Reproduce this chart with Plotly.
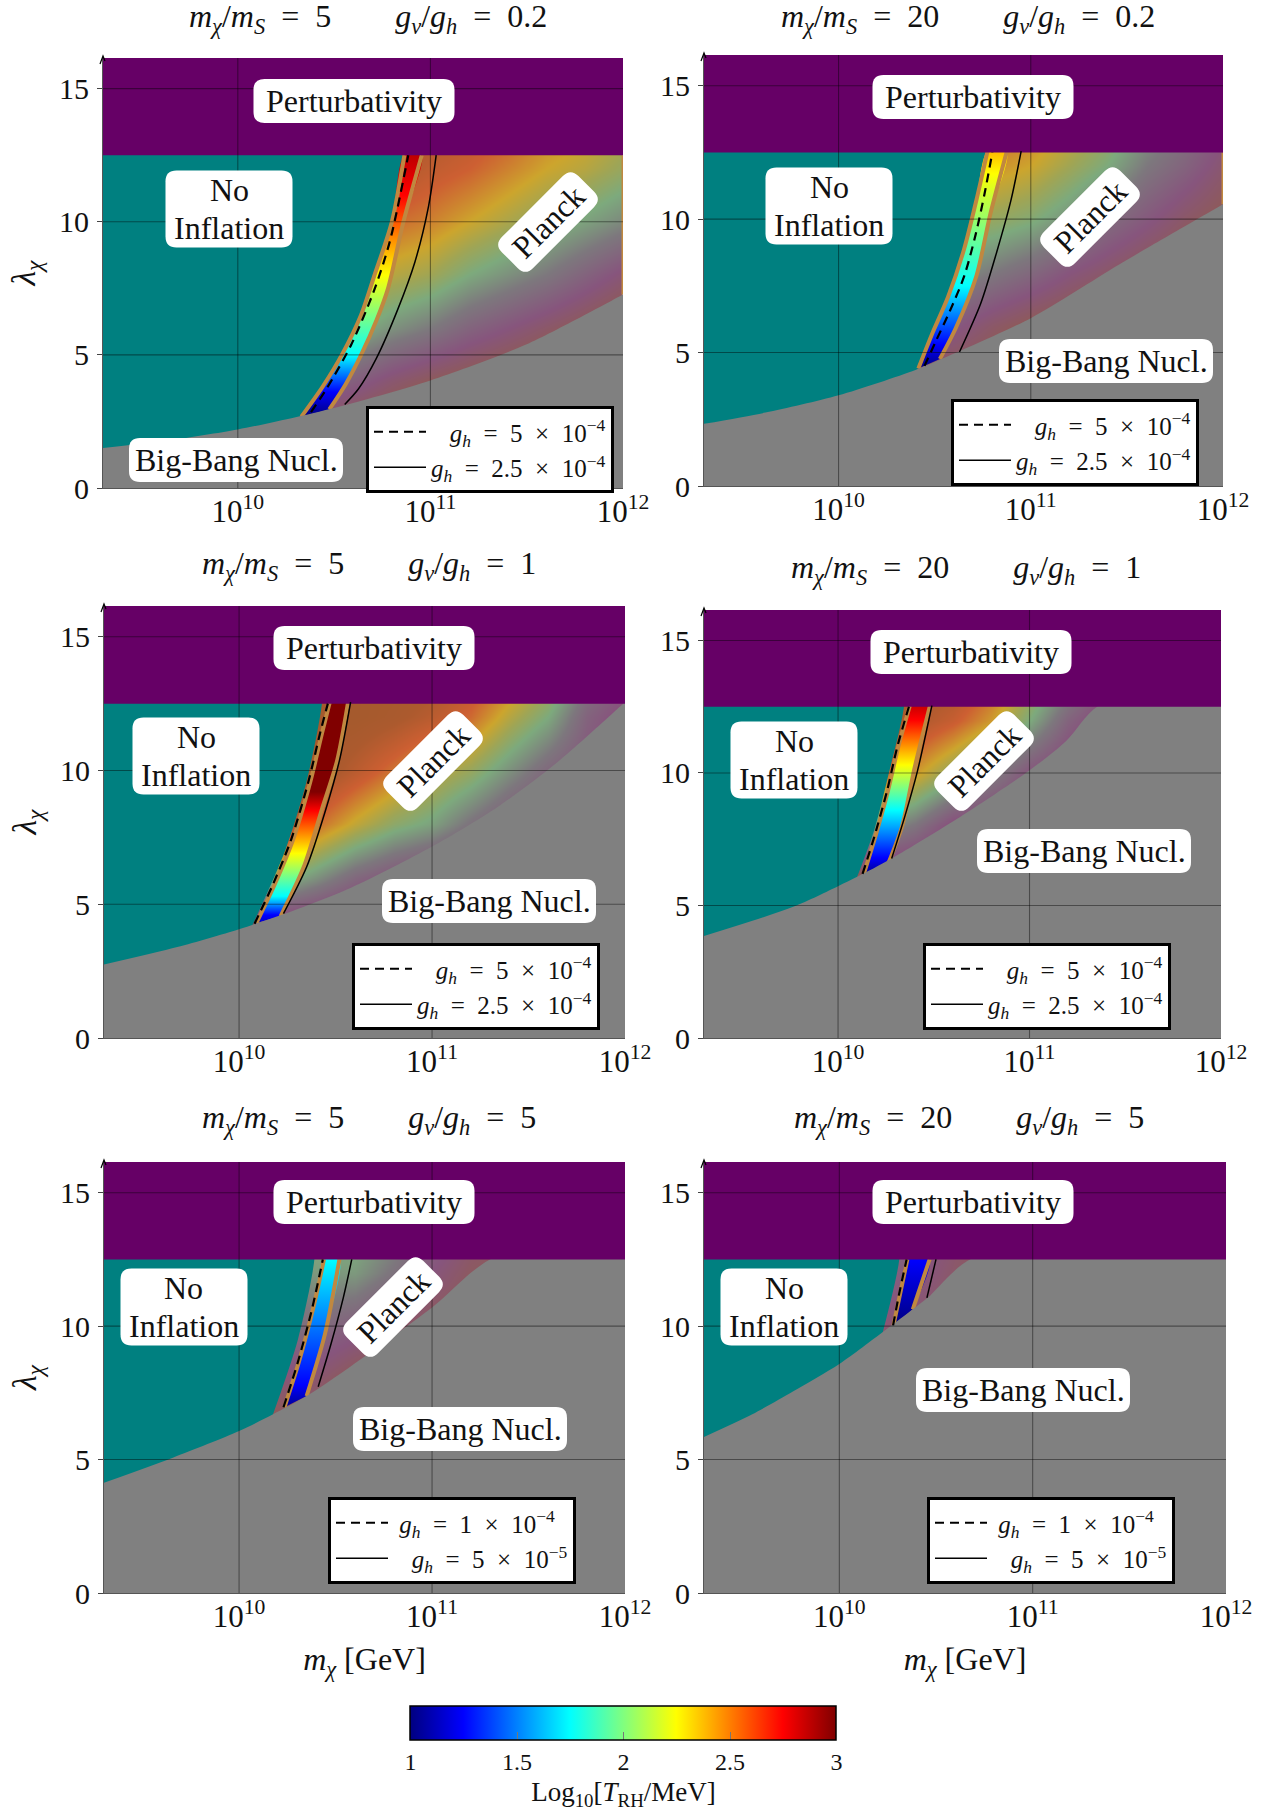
import math
import plotly.graph_objects as go

W, H = 1269, 1809
SERIF = "Liberation Serif"

# ---------- shared readings ----------
y_ticks = [0, 5, 10, 15]
x_ticks = [1e10, 1e11, 1e12]
x_tick_text = ["10<sup>10</sup>", "10<sup>11</sup>", "10<sup>12</sup>"]
cbar_ticks = [1, 1.5, 2, 2.5, 3]
cbar_text = ["1", "1.5", "2", "2.5", "3"]
grid_lx = [10.0, 10.2, 10.4, 10.6, 10.8, 11.0, 11.2, 11.4, 11.6, 11.8, 12.0]
grid_y = [2, 4, 6, 8, 10, 12, 14]

# ---------- panel 1 : ms=5, gv/gh=0.2 ----------
bbn_lx_1 = [9.3, 9.65, 10.0, 10.3, 10.55, 11.0, 11.5, 12.0]
bbn_y_1 = [1.5, 1.8, 2.2, 2.66, 3.1, 4.04, 5.4, 7.27]
teal_lx_1 = [10.32, 10.44, 10.54, 10.64, 10.71, 10.80, 10.86]
teal_y_1 = [2.66, 3.8, 5.0, 6.5, 8.0, 10.0, 12.5]
bl_lx_1 = [10.33, 10.44, 10.54, 10.64, 10.71, 10.80, 10.865]
bl_y_1 = [2.68, 3.8, 5.0, 6.5, 8.0, 10.0, 12.5]
br_lx_1 = [10.475, 10.56, 10.64, 10.72, 10.78, 10.86, 10.955]
br_y_1 = [2.95, 3.9, 5.0, 6.3, 7.5, 10.0, 12.5]
dash_lx_1 = [10.38, 10.46, 10.59, 10.71, 10.79, 10.885]
dash_y_1 = [2.85, 3.72, 5.4, 7.47, 9.28, 12.5]
solid_lx_1 = [10.555, 10.626, 10.72, 10.83, 10.92, 10.99, 11.03]
solid_y_1 = [3.14, 3.72, 4.88, 6.7, 8.5, 10.57, 12.5]
stop_y_1 = [2.7, 3.6, 5.0, 8.0, 11.0, 12.5]
stop_t_1 = [1.0, 1.25, 1.75, 2.25, 2.75, 2.88]
z_1 = [
    [1.0, 1.6, 2.2, 2.6, 2.9, 3.0, 3.0],
    [1.0, 1.55, 2.15, 2.55, 2.85, 3.0, 3.0],
    [1.0, 1.5, 2.1, 2.5, 2.8, 3.0, 3.0],
    [0.8, 1.35, 1.95, 2.4, 2.7, 2.95, 3.0],
    [0.7, 1.15, 1.75, 2.2, 2.55, 2.85, 3.0],
    [0.6, 1.0, 1.6, 2.1, 2.45, 2.7, 2.9],
    [0.5, 0.9, 1.4, 1.9, 2.3, 2.6, 2.8],
    [0.5, 0.8, 1.25, 1.75, 2.15, 2.45, 2.7],
    [0.4, 0.7, 1.1, 1.6, 2.0, 2.3, 2.5],
    [0.4, 0.6, 0.95, 1.4, 1.85, 2.2, 2.4],
    [0.3, 0.5, 0.8, 1.2, 1.7, 2.05, 2.25],
]

# ---------- panel 2 : ms=20, gv/gh=0.2 ----------
bbn_lx_2 = [9.3, 9.62, 10.0, 10.4, 10.56, 11.0, 11.46, 12.0]
bbn_y_2 = [2.33, 2.75, 3.4, 4.35, 4.83, 6.29, 8.3, 10.56]
teal_lx_2 = [10.41, 10.485, 10.57, 10.654, 10.717, 10.77]
teal_y_2 = [4.37, 5.67, 7.09, 8.9, 10.71, 12.55]
bl_lx_2 = [10.415, 10.485, 10.57, 10.654, 10.717, 10.775]
bl_y_2 = [4.4, 5.67, 7.09, 8.9, 10.71, 12.55]
br_lx_2 = [10.527, 10.61, 10.717, 10.79, 10.876]
br_y_2 = [4.76, 5.92, 7.87, 10.2, 12.55]
dash_lx_2 = [10.447, 10.505, 10.58, 10.654, 10.713, 10.76, 10.80]
dash_y_2 = [4.5, 5.41, 6.57, 7.87, 9.42, 10.97, 12.5]
solid_lx_2 = [10.629, 10.739, 10.823, 10.897, 10.95]
solid_y_2 = [5.02, 6.83, 8.77, 10.71, 12.55]
stop_y_2 = [4.4, 5.3, 7.5, 11.7, 12.5]
stop_t_2 = [1.0, 1.25, 1.75, 2.25, 2.38]
z_2 = [
    [0.8, 1.0, 1.6, 2.0, 2.3, 2.6, 2.9],
    [0.8, 1.0, 1.55, 2.0, 2.25, 2.55, 2.85],
    [0.8, 1.0, 1.5, 1.95, 2.2, 2.5, 2.8],
    [0.7, 0.9, 1.3, 1.75, 2.1, 2.45, 2.7],
    [0.6, 0.8, 1.1, 1.6, 2.05, 2.4, 2.65],
    [0.5, 0.7, 0.95, 1.45, 1.95, 2.3, 2.55],
    [0.45, 0.6, 0.85, 1.25, 1.75, 2.1, 2.35],
    [0.4, 0.55, 0.75, 1.1, 1.5, 1.9, 2.15],
    [0.4, 0.5, 0.7, 0.95, 1.3, 1.6, 1.85],
    [0.35, 0.45, 0.6, 0.85, 1.1, 1.4, 1.6],
    [0.3, 0.4, 0.55, 0.75, 0.95, 1.15, 1.35],
]

# ---------- panel 3 : ms=5, gv/gh=1 ----------
bbn_lx_3 = [9.296, 9.68, 10.0, 10.24, 10.58, 11.0, 11.34, 11.66, 12.0]
bbn_y_3 = [2.74, 3.4, 4.07, 4.65, 5.62, 7.16, 8.64, 10.37, 12.56]
teal_lx_3 = [10.07, 10.24, 10.35, 10.43]
teal_y_3 = [4.23, 7.03, 9.6, 12.55]
bl_lx_3 = [10.09, 10.185, 10.28, 10.37, 10.43, 10.47]
bl_y_3 = [4.3, 5.75, 7.42, 9.6, 11.4, 12.55]
br_lx_3 = [10.215, 10.335, 10.43, 10.508, 10.565]
br_y_3 = [4.55, 6.39, 8.57, 10.37, 12.56]
dash_lx_3 = [10.08, 10.176, 10.27, 10.36, 10.42, 10.46]
dash_y_3 = [4.27, 5.75, 7.42, 9.6, 11.4, 12.5]
solid_lx_3 = [10.23, 10.35, 10.445, 10.52, 10.578]
solid_y_3 = [4.65, 6.39, 8.44, 10.37, 12.56]
stop_y_3 = [4.2, 4.6, 5.3, 6.9, 8.5, 9.2, 12.5]
stop_t_3 = [1.1, 1.25, 1.75, 2.25, 2.75, 3.0, 3.0]
z_3 = [
    [0.5, 0.9, 2.0, 3.0, 3.0, 3.0, 3.0],
    [0.5, 0.9, 2.0, 3.0, 3.0, 3.0, 3.0],
    [0.5, 0.85, 1.75, 2.55, 3.0, 3.0, 3.0],
    [0.4, 0.8, 1.45, 2.25, 2.75, 3.0, 3.0],
    [0.4, 0.7, 1.25, 2.0, 2.5, 2.9, 3.0],
    [0.3, 0.65, 1.1, 1.85, 2.25, 2.75, 3.0],
    [0.3, 0.6, 1.0, 1.55, 2.05, 2.55, 2.85],
    [0.3, 0.55, 0.85, 1.3, 1.75, 2.2, 2.6],
    [0.3, 0.5, 0.8, 1.15, 1.45, 1.9, 2.3],
    [0.3, 0.5, 0.7, 1.0, 1.25, 1.4, 1.7],
    [0.3, 0.45, 0.6, 0.85, 1.05, 1.15, 1.4],
]

# ---------- panel 4 : ms=20, gv/gh=1 ----------
bbn_lx_4 = [9.3, 9.766, 10.0, 10.1, 10.28, 10.62, 11.0, 11.19, 11.36]
bbn_y_4 = [3.85, 4.95, 5.73, 6.08, 6.77, 8.26, 10.1, 11.2, 12.54]
teal_lx_4 = [10.1, 10.19, 10.255, 10.345]
teal_y_4 = [6.08, 7.87, 9.69, 12.54]
bl_lx_4 = [10.135, 10.195, 10.26, 10.315, 10.375]
bl_y_4 = [6.2, 7.61, 9.3, 11.0, 12.54]
br_lx_4 = [10.262, 10.335, 10.40, 10.48]
br_y_4 = [6.58, 8.0, 10.2, 12.54]
dash_lx_4 = [10.128, 10.19, 10.255, 10.31, 10.37]
dash_y_4 = [6.19, 7.61, 9.3, 11.0, 12.5]
solid_lx_4 = [10.28, 10.35, 10.415, 10.49]
solid_y_4 = [6.77, 8.39, 10.08, 12.54]
stop_y_4 = [6.1, 6.8, 8.6, 10.3, 12.0, 12.5]
stop_t_4 = [1.0, 1.25, 1.75, 2.25, 2.75, 2.85]
z_4 = [
    [0.5, 0.7, 0.9, 1.8, 2.6, 3.0, 3.0],
    [0.5, 0.7, 0.9, 1.8, 2.6, 3.0, 3.0],
    [0.5, 0.65, 0.85, 1.55, 2.35, 2.85, 3.0],
    [0.4, 0.6, 0.8, 1.15, 2.0, 2.65, 3.0],
    [0.4, 0.6, 0.75, 1.0, 1.65, 2.35, 2.7],
    [0.35, 0.55, 0.7, 0.95, 1.25, 1.9, 2.3],
    [0.3, 0.5, 0.65, 0.85, 1.05, 1.4, 1.9],
    [0.3, 0.5, 0.6, 0.8, 0.95, 1.1, 1.4],
    [0.3, 0.45, 0.6, 0.75, 0.9, 1.0, 1.2],
    [0.3, 0.45, 0.6, 0.75, 0.9, 1.0, 1.1],
    [0.3, 0.45, 0.6, 0.75, 0.9, 1.0, 1.1],
]

# ---------- panel 5 : ms=5, gv/gh=5 ----------
bbn_lx_5 = [9.296, 9.66, 10.0, 10.176, 10.35, 10.58, 11.0, 11.3]
bbn_y_5 = [4.12, 5.08, 6.07, 6.7, 7.38, 8.5, 10.7, 12.5]
teal_lx_5 = [10.176, 10.305, 10.39]
teal_y_5 = [6.7, 9.5, 12.5]
bl_lx_5 = [10.235, 10.31, 10.385, 10.44]
bl_y_5 = [6.96, 8.66, 10.7, 12.5]
br_lx_5 = [10.35, 10.445, 10.52]
br_y_5 = [7.38, 9.7, 12.5]
dash_lx_5 = [10.23, 10.305, 10.38, 10.434]
dash_y_5 = [6.96, 8.66, 10.7, 12.5]
solid_lx_5 = [10.41, 10.477, 10.54, 10.584]
solid_y_5 = [7.73, 9.35, 11.06, 12.5]
stop_y_5 = [6.8, 7.8, 12.5]
stop_t_5 = [1.0, 1.25, 1.75]
z_5 = [
    [0.5, 0.7, 0.9, 1.2, 1.5, 1.75, 1.9],
    [0.5, 0.7, 0.9, 1.2, 1.5, 1.75, 1.9],
    [0.5, 0.7, 0.9, 1.15, 1.5, 1.8, 2.0],
    [0.4, 0.6, 0.8, 0.95, 1.35, 1.8, 2.0],
    [0.4, 0.6, 0.75, 0.9, 1.15, 1.55, 1.8],
    [0.35, 0.55, 0.7, 0.85, 1.0, 1.25, 1.5],
    [0.3, 0.5, 0.65, 0.8, 0.95, 1.05, 1.2],
    [0.3, 0.5, 0.6, 0.8, 0.9, 1.0, 1.1],
    [0.3, 0.5, 0.6, 0.8, 0.9, 1.0, 1.1],
    [0.3, 0.5, 0.6, 0.8, 0.9, 1.0, 1.1],
    [0.3, 0.5, 0.6, 0.8, 0.9, 1.0, 1.1],
]

# ---------- panel 6 : ms=20, gv/gh=5 ----------
bbn_lx_6 = [9.3, 9.55, 9.762, 10.0, 10.225, 10.28, 10.38, 10.457, 10.69]
bbn_y_6 = [5.85, 6.7, 7.56, 8.58, 9.78, 10.08, 10.63, 11.06, 12.55]
teal_lx_6 = [10.225, 10.31]
teal_y_6 = [9.78, 12.5]
bl_lx_6 = [10.28, 10.315, 10.352]
bl_y_6 = [10.03, 11.23, 12.5]
br_lx_6 = [10.38, 10.467]
br_y_6 = [10.63, 12.5]
dash_lx_6 = [10.278, 10.31, 10.348]
dash_y_6 = [10.03, 11.23, 12.5]
solid_lx_6 = [10.453, 10.5]
solid_y_6 = [11.06, 12.5]
stop_y_6 = [10.0, 12.5]
stop_t_6 = [1.0, 1.25]
z_6 = [
    [0.9, 0.9, 0.9, 0.9, 1.2, 1.4, 1.5],
    [0.9, 0.9, 0.9, 0.9, 1.2, 1.4, 1.5],
    [0.9, 0.9, 0.9, 0.9, 1.1, 1.3, 1.4],
    [0.9, 0.9, 0.9, 0.9, 1.0, 1.1, 1.2],
    [0.9, 0.9, 0.9, 0.9, 1.0, 1.0, 1.0],
    [0.9, 0.9, 0.9, 0.9, 1.0, 1.0, 1.0],
    [0.9, 0.9, 0.9, 0.9, 1.0, 1.0, 1.0],
    [0.9, 0.9, 0.9, 0.9, 1.0, 1.0, 1.0],
    [0.9, 0.9, 0.9, 0.9, 1.0, 1.0, 1.0],
    [0.9, 0.9, 0.9, 0.9, 1.0, 1.0, 1.0],
    [0.9, 0.9, 0.9, 0.9, 1.0, 1.0, 1.0],
]

ms_ratio = ["5", "20", "5", "20", "5", "20"]
gv_ratio = ["0.2", "0.2", "1", "1", "5", "5"]
gh_high = ["5", "5", "5", "5", "1", "1"]
gh_low = ["2.5", "2.5", "2.5", "2.5", "5", "5"]
gh_low_exp = ["4", "4", "4", "4", "5", "5"]
lead_high = [3, 3, 3, 3, 1, 1]
lead_low = [0, 0, 0, 0, 3, 3]

# ---------- layout (reference pixels) ----------
plot_box = [(103, 623, 58, 488), (704, 1223, 55, 486), (104, 625, 606, 1038),
            (704, 1221, 610, 1038), (104, 625, 1162, 1593), (704, 1226, 1162, 1593)]
title_xy = [(368, 19), (968, 19), (369, 565), (966, 569), (369, 1119), (969, 1119)]
perturb_c = [(354, 101), (973, 97), (374, 648), (971, 652), (374, 1202), (973, 1202)]
noinf_c = [(229, 209), (829, 206), (196, 756), (794, 760), (184, 1307), (784, 1307)]
bbn_c = [(236, 460), (1106, 361), (489, 901), (1084, 851), (460, 1429), (1023, 1390)]
planck_c = [(548, 222), (1090, 217), (433, 761), (984, 761), (393, 1307), None]
legend_tl = [(366, 406), (951, 399), (352, 943), (923, 943), (328, 1497), (927, 1497)]

C_TEAL, C_GRAY, C_PURPLE, C_TAN = "#008080", "#808080", "#660066", "#C08840"
JET = [(0, (0, 0, 128)), (.125, (0, 0, 255)), (.375, (0, 255, 255)), (.625, (255, 255, 0)),
       (.875, (255, 0, 0)), (1, (128, 0, 0))]
JET_SCALE = [[p, "rgb(%d,%d,%d)" % c] for p, c in JET]
PLANCK_SCALE = [[0, "rgb(142,90,90)"], [.125, "rgb(135,85,125)"], [.3, "rgb(125,120,125)"],
                [.45, "rgb(125,170,125)"], [.55, "rgb(160,165,85)"], [.65, "rgb(205,165,45)"],
                [.8, "rgb(205,95,50)"], [.925, "rgb(172,90,46)"], [1, "rgb(165,90,45)"]]
NB = "\u00a0"


def jet(t):
    p = (t - 1) / 2
    for (p0, c0), (p1, c1) in zip(JET, JET[1:]):
        if p <= p1:
            f = (p - p0) / (p1 - p0)
            return "rgb(%d,%d,%d)" % tuple(round(a + f * (b - a)) for a, b in zip(c0, c1))
    return "rgb(128,0,0)"


def px(v):
    return v / W


def py(v):
    return 1 - v / H


def rounded(cx, cy, w, h, r=11, angle=0):
    ca, sa = math.cos(math.radians(angle)), math.sin(math.radians(angle))

    def pt(a, b):
        return "%.5f %.5f" % (px(cx + a * ca - b * sa), py(cy + a * sa + b * ca))
    a, b = w / 2, h / 2
    return ("M" + pt(-a + r, -b) + " L" + pt(a - r, -b) + " Q" + pt(a, -b) + " " + pt(a, -b + r) +
            " L" + pt(a, b - r) + " Q" + pt(a, b) + " " + pt(a - r, b) +
            " L" + pt(-a + r, b) + " Q" + pt(-a, b) + " " + pt(-a, b - r) +
            " L" + pt(-a, -b + r) + " Q" + pt(-a, -b) + " " + pt(-a + r, -b) + " Z")


def e(values):
    return [10 ** v for v in values]


panels = [
    (bbn_lx_1, bbn_y_1, teal_lx_1, teal_y_1, bl_lx_1, bl_y_1, br_lx_1, br_y_1, dash_lx_1, dash_y_1, solid_lx_1, solid_y_1, stop_y_1, stop_t_1, z_1),
    (bbn_lx_2, bbn_y_2, teal_lx_2, teal_y_2, bl_lx_2, bl_y_2, br_lx_2, br_y_2, dash_lx_2, dash_y_2, solid_lx_2, solid_y_2, stop_y_2, stop_t_2, z_2),
    (bbn_lx_3, bbn_y_3, teal_lx_3, teal_y_3, bl_lx_3, bl_y_3, br_lx_3, br_y_3, dash_lx_3, dash_y_3, solid_lx_3, solid_y_3, stop_y_3, stop_t_3, z_3),
    (bbn_lx_4, bbn_y_4, teal_lx_4, teal_y_4, bl_lx_4, bl_y_4, br_lx_4, br_y_4, dash_lx_4, dash_y_4, solid_lx_4, solid_y_4, stop_y_4, stop_t_4, z_4),
    (bbn_lx_5, bbn_y_5, teal_lx_5, teal_y_5, bl_lx_5, bl_y_5, br_lx_5, br_y_5, dash_lx_5, dash_y_5, solid_lx_5, solid_y_5, stop_y_5, stop_t_5, z_5),
    (bbn_lx_6, bbn_y_6, teal_lx_6, teal_y_6, bl_lx_6, bl_y_6, br_lx_6, br_y_6, dash_lx_6, dash_y_6, solid_lx_6, solid_y_6, stop_y_6, stop_t_6, z_6),
]

fig = go.Figure()
layout = dict(width=W, height=H, margin=dict(l=0, r=0, t=0, b=0, pad=0, autoexpand=False), paper_bgcolor="white",
              plot_bgcolor="white", font=dict(family=SERIF, size=29, color="#111"))
annotations, shapes = [], []
Y_TOP = 16.15
LOG_LEFT, LOG_RIGHT = 9.3, 12.0
SPLINE = dict(shape="spline", smoothing=0.8)

for i, p in enumerate(panels):
    (b_lx, b_y, t_lx, t_y, l_lx, l_y, r_lx, r_y, d_lx, d_y, s_lx, s_y, st_y, st_t, zz) = p
    n = i + 1
    sfx = "" if n == 1 else str(n)
    xa, ya = "x" + sfx, "y" + sfx
    x0, x1, y0, y1 = plot_box[i]
    common = dict(showlegend=False, xaxis=xa, yaxis=ya, hoverinfo="skip")

    zt = [list(row) for row in zip(*zz)]  # rows = y, columns = log x
    fig.add_trace(go.Heatmap(x=e(grid_lx), y=grid_y, z=zt, zmin=1, zmax=3, zsmooth="best",
                             colorscale=PLANCK_SCALE, showscale=False, xaxis=xa, yaxis=ya,
                             hoverinfo="skip"))

    # no-inflation region: runs under the gray and purple regions, which cut it
    fig.add_trace(go.Scatter(x=e(t_lx) + [10 ** t_lx[-1], 10 ** LOG_LEFT, 10 ** LOG_LEFT, 10 ** t_lx[0]],
                             y=t_y + [14, 14, 0, 0], mode="lines", fill="toself", fillcolor=C_TEAL,
                             line=dict(width=0, color=C_TEAL, **SPLINE), **common))

    # rainbow band with a vertical gradient, then its tan edges
    lo, hi = st_y[0], st_y[-1]
    cs = [[(v - lo) / (hi - lo), jet(t)] for v, t in zip(st_y, st_t)]
    fig.add_trace(go.Scatter(x=e(l_lx) + e(r_lx[::-1]), y=l_y + r_y[::-1], mode="lines", fill="toself",
                             fillgradient=dict(type="vertical", colorscale=cs, start=lo, stop=hi),
                             line=dict(width=0, **SPLINE), **common))
    for ex, ey in ((l_lx, l_y), (r_lx, r_y)):
        fig.add_trace(go.Scatter(x=e(ex), y=ey, mode="lines", line=dict(color=C_TAN, width=4, **SPLINE), **common))

    # right edge of the Planck region
    if n in (1, 2):
        fig.add_trace(go.Scatter(x=[1e12, 1e12], y=[b_y[-1], 12.5], mode="lines",
                                 line=dict(color=C_TAN, width=3), **common))

    # below the BBN curve; the closing corner sits under the purple band when the curve stops short of the edge
    corner = 14 if b_lx[-1] < 12 else b_y[-1]
    fig.add_trace(go.Scatter(x=e(b_lx) + [1e12, 1e12, 10 ** LOG_LEFT], y=b_y + [corner, 0, 0],
                             mode="lines", fill="toself", fillcolor=C_GRAY,
                             line=dict(width=0, color=C_GRAY, **SPLINE), **common))
    # perturbativity
    fig.add_trace(go.Scatter(x=[10 ** LOG_LEFT, 1e12, 1e12, 10 ** LOG_LEFT], y=[12.5, 12.5, Y_TOP, Y_TOP],
                             mode="lines", fill="toself", fillcolor=C_PURPLE,
                             line=dict(width=0, color=C_PURPLE), **common))

    leg = "legend" + sfx
    fig.add_trace(go.Scatter(x=e(d_lx), y=d_y, mode="lines",
                             line=dict(color="black", width=2.2, dash="9px,6px", **SPLINE),
                             name=NB * lead_high[i] + "<i>g<sub>h</sub></i>%s=%s%s%s×%s10<sup>−4</sup>" % (NB * 2, NB * 2, gh_high[i], NB * 2, NB * 2),
                             legend=leg, xaxis=xa, yaxis=ya, hoverinfo="skip"))
    fig.add_trace(go.Scatter(x=e(s_lx), y=s_y, mode="lines", line=dict(color="black", width=1.5, **SPLINE),
                             name=NB * lead_low[i] + "<i>g<sub>h</sub></i>%s=%s%s%s×%s10<sup>−%s</sup>" % (NB * 2, NB * 2, gh_low[i], NB * 2, NB * 2, gh_low_exp[i]),
                             legend=leg, xaxis=xa, yaxis=ya, hoverinfo="skip"))

    # grid on top of the regions
    for tv in x_ticks[:2]:
        fig.add_trace(go.Scatter(x=[tv, tv], y=[0, Y_TOP], mode="lines",
                                 line=dict(color="rgba(0,0,0,0.42)", width=1.1), **common))
    for tv in y_ticks[1:]:
        fig.add_trace(go.Scatter(x=[10 ** LOG_LEFT, 1e12], y=[tv, tv], mode="lines",
                                 line=dict(color="rgba(0,0,0,0.42)", width=1.1), **common))

    xaxis = dict(type="log", range=[LOG_LEFT, LOG_RIGHT], domain=[px(x0), px(x1)],
                 anchor=ya, tickvals=x_ticks, ticktext=x_tick_text, ticks="", ticklabelstandoff=-4,
                 showgrid=False, zeroline=False, showline=True, linecolor="#555",
                 linewidth=1, tickfont=dict(family=SERIF, size=31, color="#111"))
    if n >= 5:
        xaxis["title"] = dict(text="<i>m<sub>χ</sub></i> [GeV]", font=dict(family=SERIF, size=32, color="#111"), standoff=14)
    yaxis = dict(range=[0, Y_TOP], domain=[py(y1), py(y0)], anchor=xa, ticklabelstandoff=2,
                 tickvals=y_ticks, ticks="outside", ticklen=5, tickcolor="#444",
                 showgrid=False, zeroline=False, showline=True, linecolor="#555",
                 linewidth=1, tickfont=dict(family=SERIF, size=30, color="#111"))
    if n % 2 == 1:
        yaxis["title"] = dict(text="<i>λ<sub>χ</sub></i>", font=dict(family=SERIF, size=34, color="#111"), standoff=13)
    layout["xaxis" + sfx] = xaxis
    layout["yaxis" + sfx] = yaxis

    lx, ly = legend_tl[i]
    layout[leg] = dict(x=px(lx), y=py(ly), xanchor="left", yanchor="top", bgcolor="white",
                       bordercolor="black", borderwidth=3, itemwidth=52, traceorder="normal",
                       entrywidth=206, entrywidthmode="pixels",
                       font=dict(family=SERIF, size=25, color="#111"), itemclick=False,
                       itemdoubleclick=False)

    tx, ty = title_xy[i]
    annotations.append(dict(x=px(tx), y=py(ty), xref="paper", yref="paper", showarrow=False,
                            xanchor="center", yanchor="middle",
                            text="<i>m<sub>χ</sub></i>/<i>m<sub>S</sub></i>%s=%s%s%s<i>g<sub>v</sub></i>/<i>g<sub>h</sub></i>%s=%s%s" % (NB * 2, NB * 2, ms_ratio[i], NB * 8, NB * 2, NB * 2, gv_ratio[i]),
                            font=dict(family=SERIF, size=32, color="#111")))

    label_style = dict(fillcolor="white", line=dict(width=0), layer="above", xref="paper", yref="paper", type="path")
    for (cx, cy), (w, h), lines in [(perturb_c[i], (201, 44), [("Perturbativity", 0)]),
                                    (noinf_c[i], (127, 77), [("No", -19), ("Inflation", 19)]),
                                    (bbn_c[i], (214, 44), [("Big-Bang Nucl.", 0)])]:
        shapes.append(dict(path=rounded(cx, cy, w, h), **label_style))
        for txt, dy in lines:
            annotations.append(dict(x=px(cx), y=py(cy + dy), xref="paper", yref="paper", showarrow=False,
                                    xanchor="center", yanchor="middle", text=txt,
                                    font=dict(family=SERIF, size=32, color="#111")))
    if planck_c[i]:
        cx, cy = planck_c[i]
        shapes.append(dict(path=rounded(cx, cy, 108, 44, angle=-45), **label_style))
        annotations.append(dict(x=px(cx), y=py(cy), xref="paper", yref="paper", showarrow=False,
                                xanchor="center", yanchor="middle", text="Planck", textangle=-45,
                                font=dict(family=SERIF, size=32, color="#111")))
    # small axis arrow tip
    shapes.append(dict(type="path", xref="paper", yref="paper", layer="above",
                       path="M%.5f %.5f L%.5f %.5f L%.5f %.5f" % (px(x0 - 3), py(y0 + 6), px(x0), py(y0 - 2), px(x0 + 2), py(y0 + 3)),
                       line=dict(color="black", width=1.2)))

# colour bar, drawn from a hidden carrier trace
fig.add_trace(go.Scatter(x=[1e10, 1e10], y=[5, 5], mode="markers", xaxis="x", yaxis="y",
                         showlegend=False, hoverinfo="skip",
                         marker=dict(size=1, opacity=0, color=[1, 3], cmin=1, cmax=3, colorscale=JET_SCALE,
                                     showscale=True,
                                     colorbar=dict(orientation="h", x=px(623.5), xanchor="center", xref="paper",
                                                   y=py(1706), yanchor="top", yref="paper",
                                                   thickness=34, thicknessmode="pixels", len=426, lenmode="pixels",
                                                   xpad=0, ypad=0, outlinecolor="black", outlinewidth=1.5,
                                                   tickvals=cbar_ticks, ticktext=cbar_text, ticks="inside",
                                                   ticklen=8, tickcolor="#777",
                                                   tickfont=dict(family=SERIF, size=24, color="#111"),
                                                   title=dict(text="Log<sub>10</sub>[<i>T</i><sub>RH</sub>/MeV]", side="bottom",
                                                              font=dict(family=SERIF, size=27, color="#111"))))))

layout["annotations"] = annotations
layout["shapes"] = shapes
fig.update_layout(**layout)
fig.write_html("out.html", config={"displayModeBar": False},
               post_script="document.body.style.margin='0';document.body.style.overflow='hidden';")
